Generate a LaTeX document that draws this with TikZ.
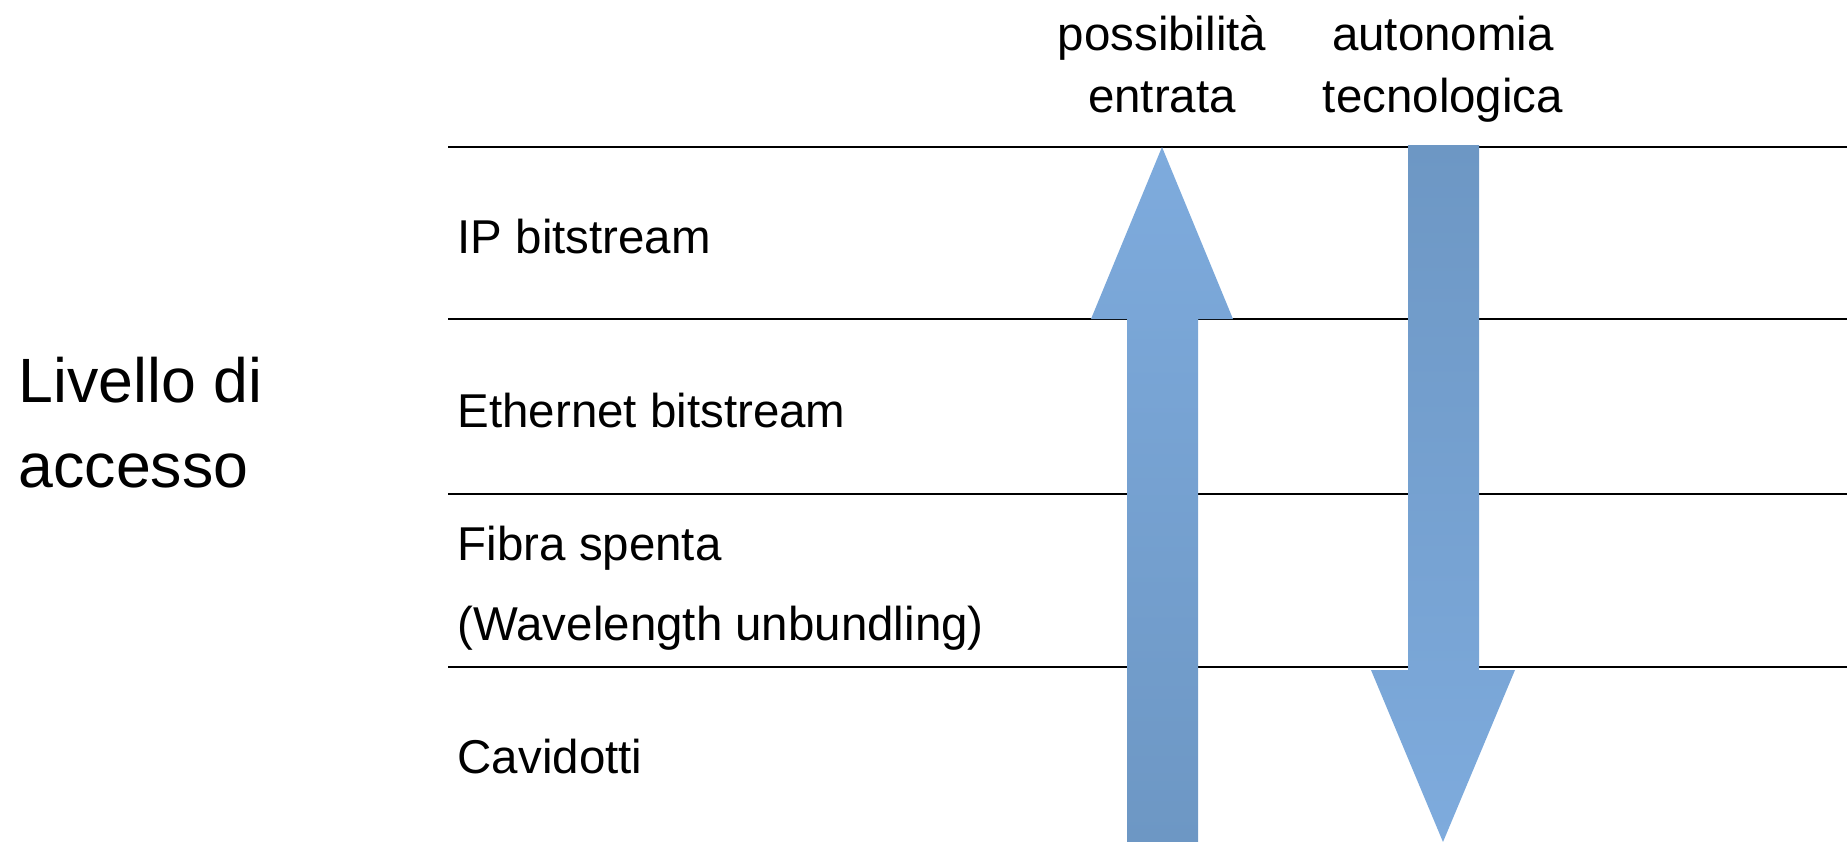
\documentclass[tikz,border=0pt]{standalone}
\usepackage{fontspec}
\setmainfont{Liberation Sans}
\definecolor{arrowlight}{RGB}{126,171,221}
\definecolor{arrowdark}{RGB}{109,151,196}
\tikzset{
  layertext/.style={anchor=base west,inner sep=0pt,font=\fontsize{13.5}{16}\selectfont},
  headtext/.style={anchor=base,inner sep=0pt,font=\fontsize{13.5}{16}\selectfont},
  bigtext/.style={anchor=base west,inner sep=0pt,font=\fontsize{17.8}{21}\selectfont},
  layerline/.style={line width=0.75pt}
}
\begin{document}
\begin{tikzpicture}[x=0.01cm,y=-0.01cm]
\useasboundingbox (0,0) rectangle (1847,842);
% layer separators
\foreach \y in {147,319,494,667}
  \draw[layerline] (448,\y) -- (1847,\y);
% arrows
\shade[top color=arrowlight,bottom color=arrowdark]
(1162,147) -- (1233,319) -- (1198,319) -- (1198,842) -- (1127,842) -- (1127,319) -- (1091,319) -- cycle;
\shade[top color=arrowdark,bottom color=arrowlight]
(1408,145) -- (1479,145) -- (1479,670) -- (1515,670) -- (1443,842) -- (1371,670) -- (1408,670) -- cycle;
% column heads
\node[headtext] (poss) at (1162,50) {possibilità};
\node[headtext] (entr) at (1162,112) {entrata};
\node[headtext] (auto) at (1443,50) {autonomia};
\node[headtext] (tecn) at (1443,112) {tecnologica};
% layers
\node[layertext] (ip) at (457,253) {IP bitstream};
\node[layertext] (eth) at (457,427) {Ethernet bitstream};
\node[layertext] (fib) at (457,560) {Fibra spenta};
\node[layertext] (wav) at (457,640) {(Wavelength unbundling)};
\node[layertext] (cav) at (457,773) {Cavidotti};
% left label
\node[bigtext] (liv) at (18,402) {Livello di};
\node[bigtext] (acc) at (18,487) {accesso};
\end{tikzpicture}
\end{document}
